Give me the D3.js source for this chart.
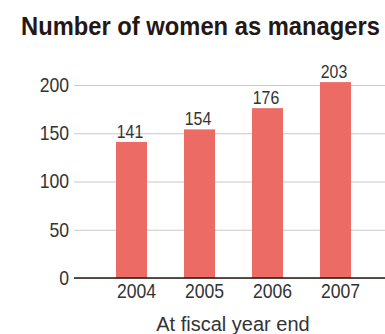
<!DOCTYPE html>
<html>
<head>
<meta charset="utf-8">
<style>
    body { margin: 0; background: #fff; font-family: "Liberation Sans", Arial, sans-serif; }
    svg text { fill: #333; }
</style>
</head>
<body>
<svg id="chart" width="385" height="334"></svg>
<script src="https://d3js.org/d3.v7.min.js"></script>
<script>
    let years = ["2004", "2005", "2006", "2007"]
    let managers = [141, 154, 176, 203]
    let yTicks = [0, 50, 100, 150, 200]

    let svg = d3.select("#chart")
    let margin = {left: 74, top: 85, bottom: 278}
    let squeeze = 0.88   // reference type is narrower than Arial

    let xScale = d3.scaleBand()
        .domain(years)
        .range([82, 385])
        .paddingInner(0.544)
        .paddingOuter(0.5)

    let yScale = d3.scaleLinear()
        .domain([0, 200])
        .range([margin.bottom, margin.top])

    // title, stretched to the reference width
    let title = svg.append("text")
        .attr("font-size", 25)
        .attr("font-weight", "bold")
        .style("fill", "#231815")
        .text("Number of women as managers")
    let tw = title.node().getComputedTextLength()
    title.attr("transform", `translate(21,35) scale(${359 / tw},1)`)

    // gridlines + y labels
    let yAxis = svg.append("g")
        .attr("transform", `translate(${margin.left},0)`)
        .call(d3.axisLeft(yScale).tickValues(yTicks).tickSize(-(385 - margin.left)).tickPadding(5))
    yAxis.select(".domain").remove()
    yAxis.selectAll(".tick line").attr("stroke", "#c8c8c8")
    yAxis.selectAll(".tick text")
        .attr("font-size", 20)
        .attr("font-family", "Liberation Sans, Arial, sans-serif")
        .attr("x", -5 / squeeze)
        .attr("transform", `scale(${squeeze},1)`)
        .style("fill", "#333")

    // bars
    svg.append("g").selectAll("rect")
        .data(managers)
        .enter().append("rect")
        .attr("x", (d, i) => xScale(years[i]))
        .attr("width", xScale.bandwidth())
        .attr("y", d => yScale(d))
        .attr("height", d => yScale(0) - yScale(d))
        .attr("fill", "#ec6b65")

    // value labels
    svg.append("g").selectAll("text")
        .data(managers)
        .enter().append("text")
        .attr("transform", (d, i) => `translate(${xScale(years[i]) + xScale.bandwidth() / 2 - 1.5},${yScale(d) - 4}) scale(${squeeze},1)`)
        .attr("text-anchor", "middle")
        .attr("font-size", 18)
        .text(d => d)

    // x axis
    let xAxis = svg.append("g")
        .attr("transform", `translate(5,${margin.bottom})`)
        .call(d3.axisBottom(xScale).tickSize(0).tickPadding(6))
    xAxis.select(".domain").remove()
    xAxis.selectAll(".tick text")
        .attr("font-size", 20)
        .attr("font-family", "Liberation Sans, Arial, sans-serif")
        .attr("transform", `scale(${squeeze},1)`)
        .style("fill", "#333")

    svg.append("line")
        .attr("x1", margin.left).attr("x2", 385)
        .attr("y1", margin.bottom).attr("y2", margin.bottom)
        .attr("stroke", "#231815")
        .attr("stroke-width", 1.5)

    svg.append("text")
        .attr("x", 233)
        .attr("y", 331)
        .attr("text-anchor", "middle")
        .attr("font-size", 20)
        .text("At fiscal year end")
</script>
</body>
</html>
